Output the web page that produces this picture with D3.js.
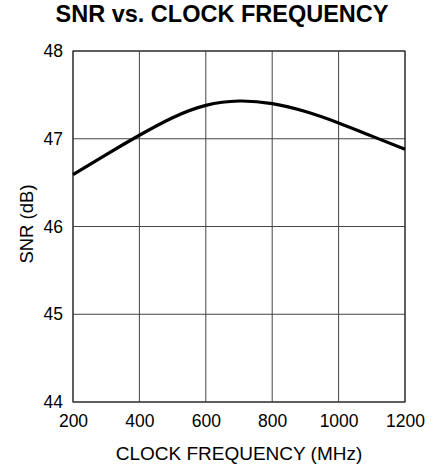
<!DOCTYPE html>
<html>
<head>
<meta charset="utf-8">
<script src="https://cdn.jsdelivr.net/npm/d3@7"></script>
<style>
  html, body { margin: 0; padding: 0; background: #fff; }
  svg { display: block; font-family: "Liberation Sans", Arial, Helvetica, sans-serif; }
</style>
</head>
<body>
<svg id="chart" width="433" height="469"></svg>
<script>
// SNR measured across the clock frequency range
const clockMHz = [200, 300, 400, 500, 600, 700, 800, 900, 1000, 1100, 1200];
const snrDb    = [46.59, 46.82, 47.04, 47.24, 47.38, 47.43, 47.40, 47.31, 47.18, 47.03, 46.88];

const xTicks = [200, 400, 600, 800, 1000, 1200];
const yTicks = [44, 45, 46, 47, 48];

const titleText = "SNR vs. CLOCK FREQUENCY";
const xLabel = "CLOCK FREQUENCY (MHz)";
const yLabel = "SNR (dB)";

const svg = d3.select("#chart");
const margin = { left: 73, right: 28, top: 51, bottom: 67 };
const W = 433, H = 469;

const x = d3.scaleLinear().domain([200, 1200]).range([margin.left, W - margin.right]);
const y = d3.scaleLinear().domain([44, 48]).range([H - margin.bottom, margin.top]);

// grid
const grid = svg.append("g").attr("stroke", "#444").attr("stroke-width", 1);
grid.selectAll("line.v").data(xTicks).join("line")
  .attr("x1", d => x(d)).attr("x2", d => x(d))
  .attr("y1", y(44)).attr("y2", y(48));
grid.selectAll("line.h").data(yTicks).join("line")
  .attr("x1", x(200)).attr("x2", x(1200))
  .attr("y1", d => y(d)).attr("y2", d => y(d));

// frame
svg.append("rect")
  .attr("x", x(200)).attr("y", y(48))
  .attr("width", x(1200) - x(200)).attr("height", y(44) - y(48))
  .attr("fill", "none").attr("stroke", "#333").attr("stroke-width", 1.2);

// axes (labels only)
const xAxis = svg.append("g")
  .attr("transform", `translate(0,${y(44)})`)
  .call(d3.axisBottom(x).tickValues(xTicks).tickSize(0).tickPadding(13).tickFormat(d3.format("d")));
xAxis.select(".domain").remove();
xAxis.selectAll("text").attr("font-size", 17.5).attr("fill", "#000")
  .attr("font-family", "Liberation Sans, Arial, sans-serif");

const yAxis = svg.append("g")
  .attr("transform", `translate(${x(200)},0)`)
  .call(d3.axisLeft(y).tickValues(yTicks).tickSize(0).tickPadding(10).tickFormat(d3.format("d")));
yAxis.select(".domain").remove();
yAxis.selectAll("text").attr("font-size", 17.5).attr("fill", "#000")
  .attr("font-family", "Liberation Sans, Arial, sans-serif");

// curve
const line = d3.line()
  .x((d, i) => x(clockMHz[i]))
  .y(d => y(d))
  .curve(d3.curveNatural);
svg.append("path")
  .datum(snrDb)
  .attr("d", line)
  .attr("fill", "none")
  .attr("stroke", "#000")
  .attr("stroke-width", 3.2);

// title
svg.append("text")
  .attr("x", 222).attr("y", 22)
  .attr("text-anchor", "middle")
  .attr("font-size", 23.5).attr("font-weight", "bold")
  .text(titleText);

// axis titles
svg.append("text")
  .attr("x", (x(200) + x(1200)) / 2).attr("y", 460)
  .attr("text-anchor", "middle")
  .attr("font-size", 19)
  .text(xLabel);

svg.append("text")
  .attr("transform", "translate(33,224) rotate(-90)")
  .attr("text-anchor", "middle")
  .attr("font-size", 18.5)
  .text(yLabel);
</script>
</body>
</html>
